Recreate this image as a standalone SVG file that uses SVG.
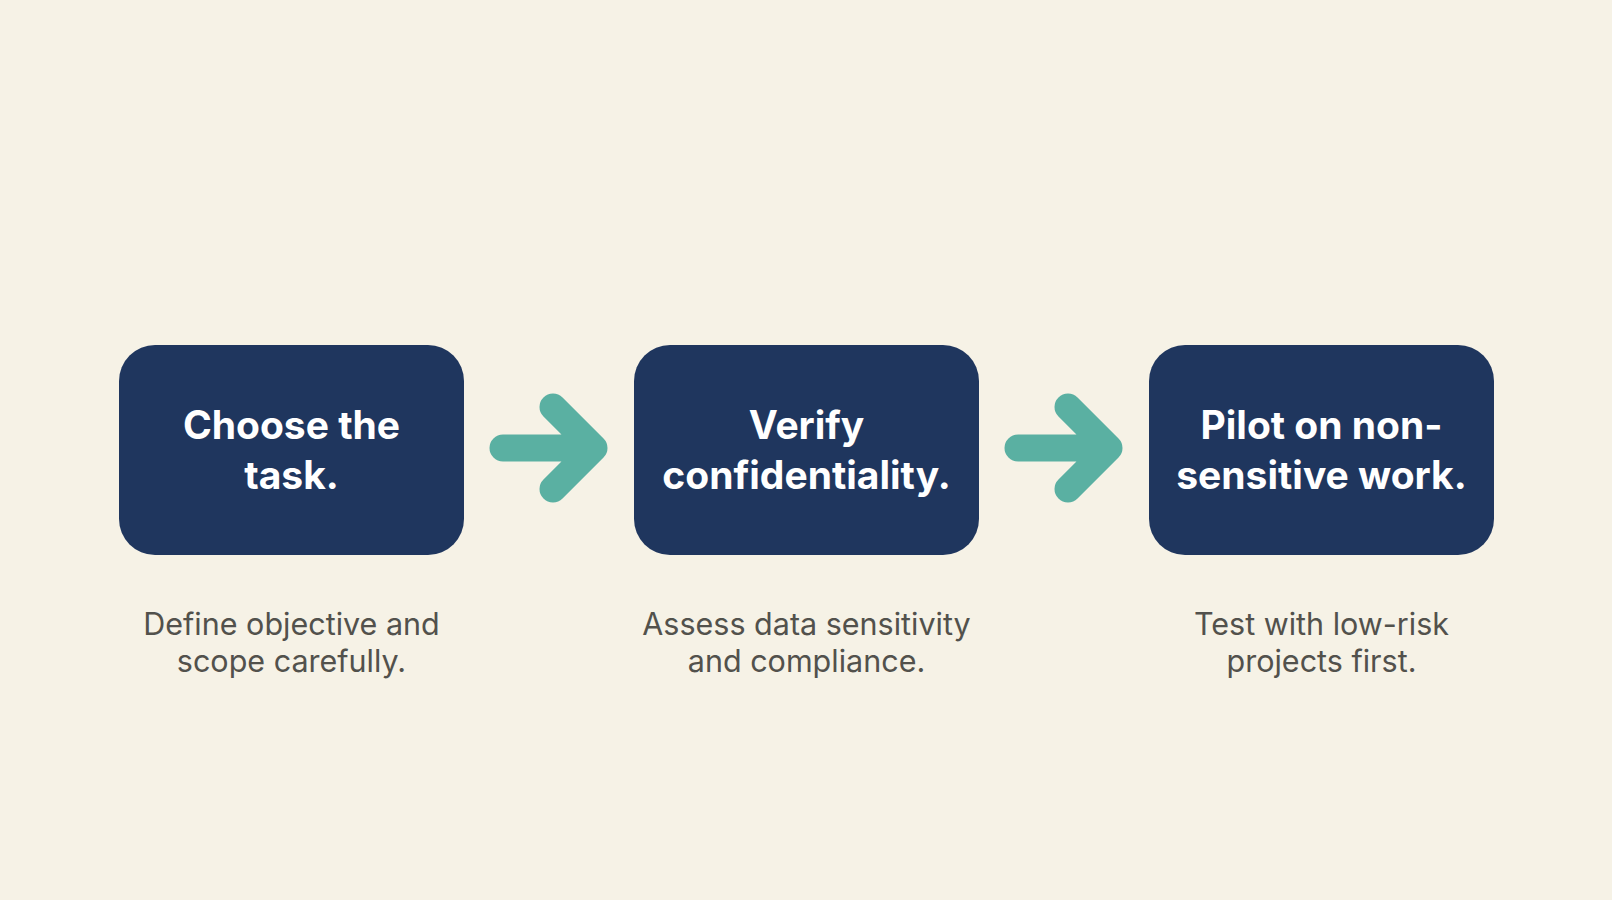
<svg xmlns="http://www.w3.org/2000/svg" width="1612" height="900" viewBox="0 0 1612 900">
<style>
.box{fill:#1F365E;}
.title{font-family:Inter,"Liberation Sans",sans-serif;font-weight:700;font-size:39px;fill:#FFFFFF;text-anchor:middle;}
.desc{font-family:Inter,"Liberation Sans",sans-serif;font-weight:400;font-size:30.5px;fill:#52514C;text-anchor:middle;}
.arrow{fill:none;stroke:#5AB0A2;stroke-width:27;stroke-linecap:round;stroke-linejoin:round;}
</style>
<rect width="1612" height="900" fill="#F6F2E6"/>
<g id="node1">
<rect class="box" x="119" y="345" width="345" height="210" rx="36"/>
<text class="title" x="291.5" y="439">Choose the</text>
<text class="title" x="291.5" y="489">task.</text>
<text class="desc" x="291.5" y="635">Define objective and</text>
<text class="desc" x="291.5" y="672">scope carefully.</text>
</g>
<g id="node2">
<rect class="box" x="634" y="345" width="345" height="210" rx="36"/>
<text class="title" x="806.5" y="439">Verify</text>
<text class="title" x="806.5" y="489">confidentiality.</text>
<text class="desc" x="806.5" y="635">Assess data sensitivity</text>
<text class="desc" x="806.5" y="672">and compliance.</text>
</g>
<g id="node3">
<rect class="box" x="1149" y="345" width="345" height="210" rx="36"/>
<text class="title" x="1321.5" y="439">Pilot on non-</text>
<text class="title" x="1321.5" y="489">sensitive work.</text>
<text class="desc" x="1321.5" y="635">Test with low-risk</text>
<text class="desc" x="1321.5" y="672">projects first.</text>
</g>
<g id="connectors">
<path class="arrow" d="M503 448 H594 M553 407 L594 448 L553 489"/>
<path class="arrow" d="M1018 448 H1109 M1068 407 L1109 448 L1068 489"/>
</g>
</svg>
